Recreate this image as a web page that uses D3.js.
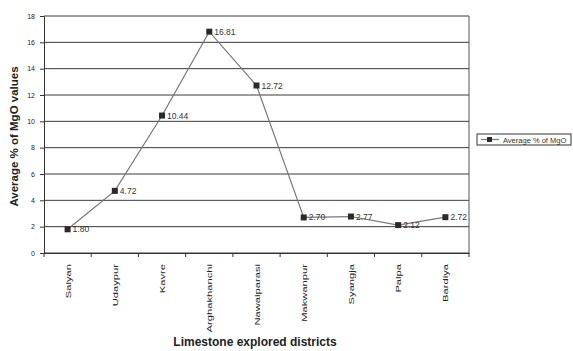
<!DOCTYPE html>
<html>
<head>
<meta charset="utf-8">
<script src="https://cdn.jsdelivr.net/npm/d3@7"></script>
<style>
  html, body { margin: 0; padding: 0; background: #fff; }
  svg { display: block; font-family: Arial, "Liberation Sans", sans-serif; }
</style>
</head>
<body>
<svg id="chart" width="573" height="351"></svg>
<script>
// Districts where limestone was explored
const districts = ["Salyan", "Udaypur", "Kavre", "Arghakhanchi", "Nawalparasi",
                   "Makwanpur", "Syangja", "Palpa", "Bardiya"];
// Average MgO content (%) per district
const mgoValues = [1.80, 4.72, 10.44, 16.81, 12.72, 2.70, 2.77, 2.12, 2.72];
const yTicks = [0, 2, 4, 6, 8, 10, 12, 14, 16, 18];
const seriesName = "Average % of MgO";

const svg = d3.select("#chart");
const plot = { left: 44, right: 469, top: 16, bottom: 253 };

const x = d3.scaleBand().domain(districts).range([plot.left, plot.right]);
const y = d3.scaleLinear().domain([0, 18]).range([plot.bottom, plot.top]);

const ink = "#333";

// horizontal gridlines
svg.append("g")
  .selectAll("line")
  .data(yTicks)
  .join("line")
  .attr("x1", plot.left).attr("x2", plot.right)
  .attr("y1", d => y(d)).attr("y2", d => y(d))
  .attr("stroke", "#3a3a3a").attr("stroke-width", 1);

// right border of the plot area
svg.append("line")
  .attr("x1", plot.right).attr("x2", plot.right)
  .attr("y1", plot.top).attr("y2", plot.bottom)
  .attr("stroke", "#555").attr("stroke-width", 1);

// y axis
const yAxis = svg.append("g")
  .attr("transform", `translate(${plot.left},0)`)
  .call(d3.axisLeft(y).tickValues(yTicks).tickSize(4).tickPadding(5));
yAxis.select(".domain").attr("stroke", ink);
yAxis.selectAll(".tick line").attr("stroke", ink);
yAxis.selectAll(".tick text").attr("font-size", 7).attr("fill", "#222");

// x axis: ticks on category boundaries
const xAxis = svg.append("g")
  .attr("transform", `translate(0,${plot.bottom})`)
  .call(d3.axisBottom(x).tickSize(0).tickFormat(""));
xAxis.select(".domain").attr("stroke", ink);
const bounds = districts.map(d => x(d)).concat([plot.right]);
svg.append("g")
  .selectAll("line")
  .data(bounds)
  .join("line")
  .attr("x1", d => d).attr("x2", d => d)
  .attr("y1", plot.bottom).attr("y2", plot.bottom + 4)
  .attr("stroke", ink);

// rotated, condensed category labels
svg.append("g")
  .selectAll("text")
  .data(districts)
  .join("text")
  .attr("transform", d => `translate(${x(d) + x.bandwidth() / 2 + 3},${plot.bottom + 11}) rotate(-90) scale(1.4,1)`)
  .attr("text-anchor", "end")
  .attr("font-size", 8)
  .attr("fill", "#222")
  .text(d => d);

// series line
const pts = districts.map((d, i) => ({ d, v: mgoValues[i] }));
svg.append("path")
  .datum(pts)
  .attr("fill", "none")
  .attr("stroke", "#777")
  .attr("stroke-width", 1.2)
  .attr("d", d3.line().x(p => x(p.d) + x.bandwidth() / 2).y(p => y(p.v)));

// square markers
svg.append("g")
  .selectAll("rect")
  .data(pts)
  .join("rect")
  .attr("x", p => x(p.d) + x.bandwidth() / 2 - 3)
  .attr("y", p => y(p.v) - 3)
  .attr("width", 6).attr("height", 6)
  .attr("fill", "#2a2a2a");

// value labels
svg.append("g")
  .selectAll("text")
  .data(pts)
  .join("text")
  .attr("x", p => x(p.d) + x.bandwidth() / 2 + 5)
  .attr("y", p => y(p.v) + 3)
  .attr("font-size", 8.5)
  .attr("fill", "#333")
  .text(p => p.v.toFixed(2));

// axis titles
svg.append("text")
  .attr("transform", `translate(18,${(plot.top + plot.bottom) / 2 + 2}) rotate(-90)`)
  .attr("text-anchor", "middle")
  .attr("font-size", 11.5)
  .attr("font-weight", "bold")
  .attr("fill", "#222")
  .text("Average % of MgO values");

svg.append("text")
  .attr("x", 255).attr("y", 346)
  .attr("text-anchor", "middle")
  .attr("font-size", 12)
  .attr("font-weight", "bold")
  .attr("fill", "#222")
  .text("Limestone explored districts");

// legend
const lg = svg.append("g").attr("transform", "translate(477,134)");
lg.append("rect")
  .attr("width", 94).attr("height", 11)
  .attr("fill", "#fff").attr("stroke", "#333").attr("stroke-width", 1);
lg.append("line")
  .attr("x1", 4).attr("x2", 22).attr("y1", 5.5).attr("y2", 5.5)
  .attr("stroke", "#777").attr("stroke-width", 1.2);
lg.append("rect")
  .attr("x", 10).attr("y", 3).attr("width", 5).attr("height", 5)
  .attr("fill", "#2a2a2a");
lg.append("text")
  .attr("x", 26).attr("y", 8.5)
  .attr("font-size", 7.5)
  .attr("fill", "#333")
  .text(seriesName);
</script>
</body>
</html>
